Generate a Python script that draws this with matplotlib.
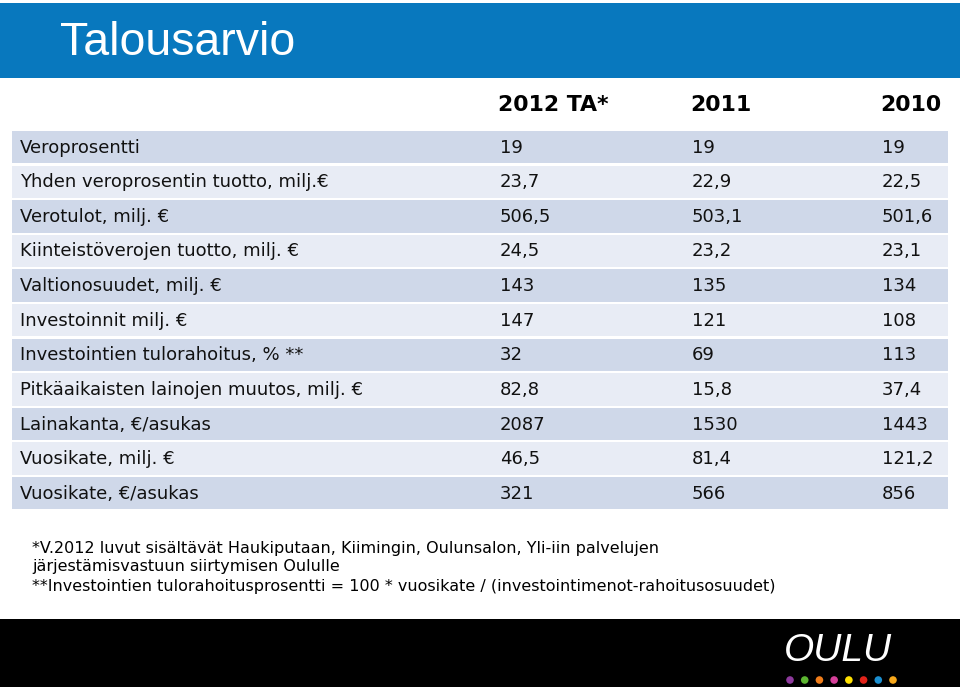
import matplotlib
matplotlib.use("Agg")
import matplotlib.pyplot as plt
from matplotlib.patches import Rectangle
import numpy as np

title = "Talousarvio"
columns = ["2012 TA*", "2011", "2010"]
row_labels = [
    "Veroprosentti",
    "Yhden veroprosentin tuotto, milj.€",
    "Verotulot, milj. €",
    "Kiinteistöverojen tuotto, milj. €",
    "Valtionosuudet, milj. €",
    "Investoinnit milj. €",
    "Investointien tulorahoitus, % **",
    "Pitkäaikaisten lainojen muutos, milj. €",
    "Lainakanta, €/asukas",
    "Vuosikate, milj. €",
    "Vuosikate, €/asukas",
]
values_2012 = ["19", "23,7", "506,5", "24,5", "143", "147", "32", "82,8", "2087", "46,5", "321"]
values_2011 = ["19", "22,9", "503,1", "23,2", "135", "121", "69", "15,8", "1530", "81,4", "566"]
values_2010 = ["19", "22,5", "501,6", "23,1", "134", "108", "113", "37,4", "1443", "121,2", "856"]
footnotes = [
    "*V.2012 luvut sisältävät Haukiputaan, Kiimingin, Oulunsalon, Yli-iin palvelujen",
    "järjestämisvastuun siirtymisen Oululle",
    "**Investointien tulorahoitusprosentti = 100 * vuosikate / (investointimenot-rahoitusosuudet)",
]
logo_text = "OULU"
dot_colors = ["#8e3a9d", "#5cb531", "#f07d1a", "#d6409a", "#ffe100", "#e2231a", "#1b8fd0", "#f7a81b"]

W, H = 960, 687
fig = plt.figure(figsize=(W / 100, H / 100), dpi=100)
ax = fig.add_axes([0, 0, 1, 1])
ax.set_xlim(0, W)
ax.set_ylim(H, 0)
ax.axis("off")

# Header bar
ax.add_patch(Rectangle((0, 3), W, 75, facecolor="#0878be", edgecolor="none"))
ax.text(60, 43, title, color="white", fontsize=33.5, family="Liberation Sans",
        va="center", ha="left")

# Column headers
col_x = [498, 690, 941]
col_ha = ["left", "left", "right"]
for x, ha, c in zip(col_x, col_ha, columns):
    ax.text(x, 105, c, fontsize=15.8, fontweight="bold", family="DejaVu Sans",
            va="center", ha=ha, color="black")

# Rows
top = 131
step = 34.6
gap = 2.2
dark, light = "#cfd8e9", "#e8ecf5"
val_x = [500, 692, 882]
for i, lab in enumerate(row_labels):
    y0 = top + i * step
    ax.add_patch(Rectangle((12, y0), 936, step - gap,
                           facecolor=dark if i % 2 == 0 else light, edgecolor="none"))
    yc = y0 + (step - gap) / 2 + 0.5
    ax.text(20, yc, lab, fontsize=13, family="DejaVu Sans", va="center", ha="left",
            color="#111111")
    for x, v in zip(val_x, (values_2012[i], values_2011[i], values_2010[i])):
        ax.text(x, yc, v, fontsize=13, family="DejaVu Sans", va="center", ha="left",
                color="#111111")

# Footnotes
for j, t in enumerate(footnotes):
    ax.text(32, 548 + j * 19, t, fontsize=11.5, family="DejaVu Sans",
            va="center", ha="left", color="black")

# Footer
ax.add_patch(Rectangle((0, 619), W, H - 619, facecolor="black", edgecolor="none"))
ax.text(838, 651, logo_text, fontsize=28, family="Liberation Sans", style="italic",
        color="white", va="center", ha="center")
dx = np.linspace(790, 893, len(dot_colors))
ax.scatter(dx, np.full(len(dx), 680), s=30, c=dot_colors, edgecolors="none")

fig.savefig("out.png", dpi=100)
